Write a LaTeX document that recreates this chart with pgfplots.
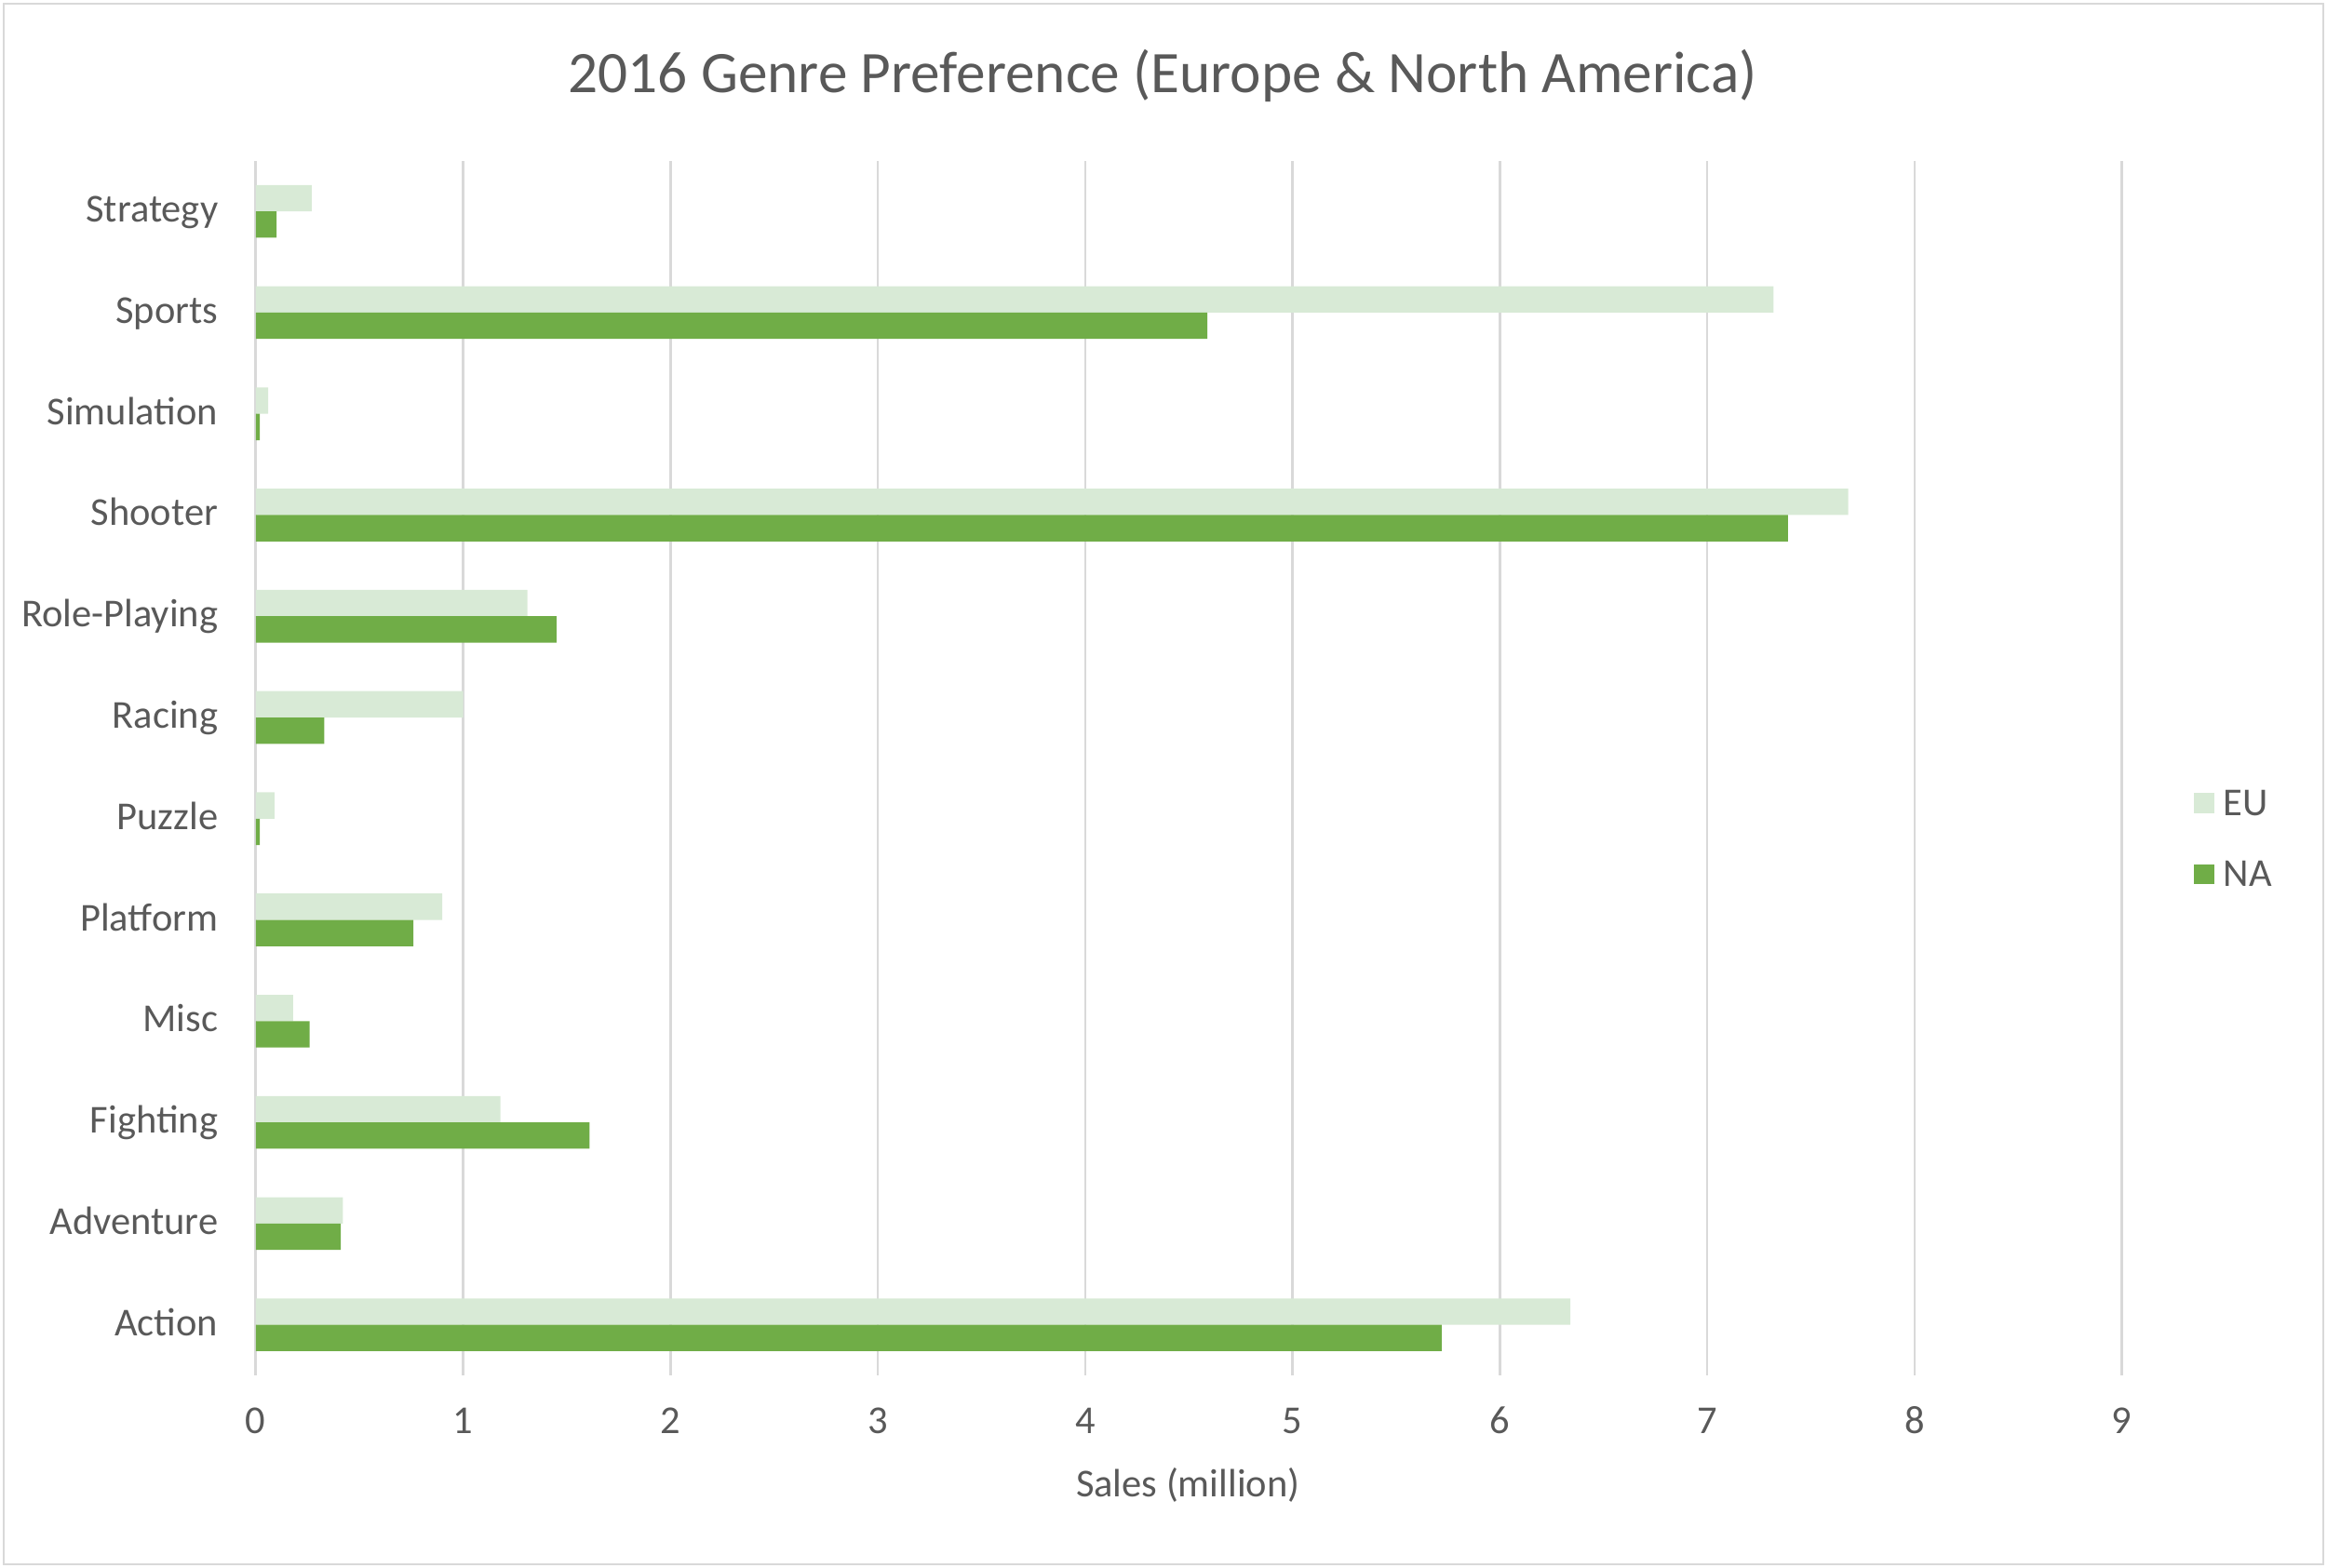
\documentclass[border=0pt]{standalone}
\usepackage{pgfplots}
\pgfplotsset{compat=1.18}
\usepackage{fontspec}
\setmainfont{Carlito}
\definecolor{eucol}{HTML}{D8EAD6}
\definecolor{nacol}{HTML}{70AD47}
\definecolor{textgray}{HTML}{595959}
\definecolor{gridgray}{HTML}{D9D9D9}
\begin{document}
\begin{tikzpicture}
\useasboundingbox (0,0) rectangle (782.5pt,527.4pt);
\draw[gridgray, line width=0.8pt] (1.3pt,1.3pt) rectangle (781.2pt,526.1pt);
\begin{axis}[
  at={(86pt,64.8pt)}, anchor=south west,
  scale only axis, width=627.5pt, height=408.5pt,
  xbar, bar width=0.26,
  xmin=0, xmax=9, ymin=-0.5, ymax=11.5,
  xtick={0,1,2,3,4,5,6,7,8,9},
  ytick={0,1,2,3,4,5,6,7,8,9,10,11},
  yticklabels={Action,Adventure,Fighting,Misc,Platform,Puzzle,Racing,Role-Playing,Shooter,Simulation,Sports,Strategy},
  xmajorgrids, major grid style={color=gridgray, line width=0.8pt},
  axis line style={draw=none}, major tick length=0pt, tick style={draw=none},
  /pgf/number format/assume math mode=true,
  tick label style={font=\fontsize{13.3pt}{15pt}\selectfont, text=textgray},
  xticklabel style={anchor=base, yshift=-19.7pt},
  yticklabel style={anchor=base east, inner sep=0pt, xshift=-12.5pt, yshift=-3.6pt},
  title={2016 Genre Preference (Europe \& North America)},
  title style={at={(axis description cs:0.486,1.0564)}, anchor=base, yshift=-6pt, font=\fontsize{19.8pt}{22pt}\selectfont, text=textgray, inner sep=0pt},
  xlabel={Sales (million)},
  xlabel style={at={(axis description cs:0.4996,0)}, anchor=base, yshift=-41pt, font=\fontsize{13.3pt}{15pt}\selectfont, text=textgray, inner sep=0pt},
  legend style={at={(axis description cs:1.0388,0.4816)}, anchor=north west, draw=none, fill=none, inner sep=0pt, outer sep=0pt, row sep=15.5pt,
    font=\fontsize{13.3pt}{15pt}\selectfont,
    nodes={text height=8.4pt, text depth=0pt, inner sep=0pt, text=textgray},
    /tikz/every odd column/.append style={column sep=3pt}},
  legend cell align=left,
]
\addplot[fill=eucol, draw=none, bar shift=0.13,
  legend image code/.code={\fill[eucol] (0pt,-3.5pt) rectangle (6.8pt,3.3pt);}]
  coordinates {(6.34,0) (0.42,1) (1.18,2) (0.18,3) (0.90,4) (0.09,5) (1.00,6) (1.31,7) (7.68,8) (0.06,9) (7.32,10) (0.27,11)};
\addlegendentry{EU}
\addplot[fill=nacol, draw=none, bar shift=-0.13,
  legend image code/.code={\fill[nacol] (0pt,-3.5pt) rectangle (6.8pt,3.3pt);}]
  coordinates {(5.72,0) (0.41,1) (1.61,2) (0.26,3) (0.76,4) (0.02,5) (0.33,6) (1.45,7) (7.39,8) (0.02,9) (4.59,10) (0.10,11)};
\addlegendentry{NA}
\end{axis}
\end{tikzpicture}
\end{document}
